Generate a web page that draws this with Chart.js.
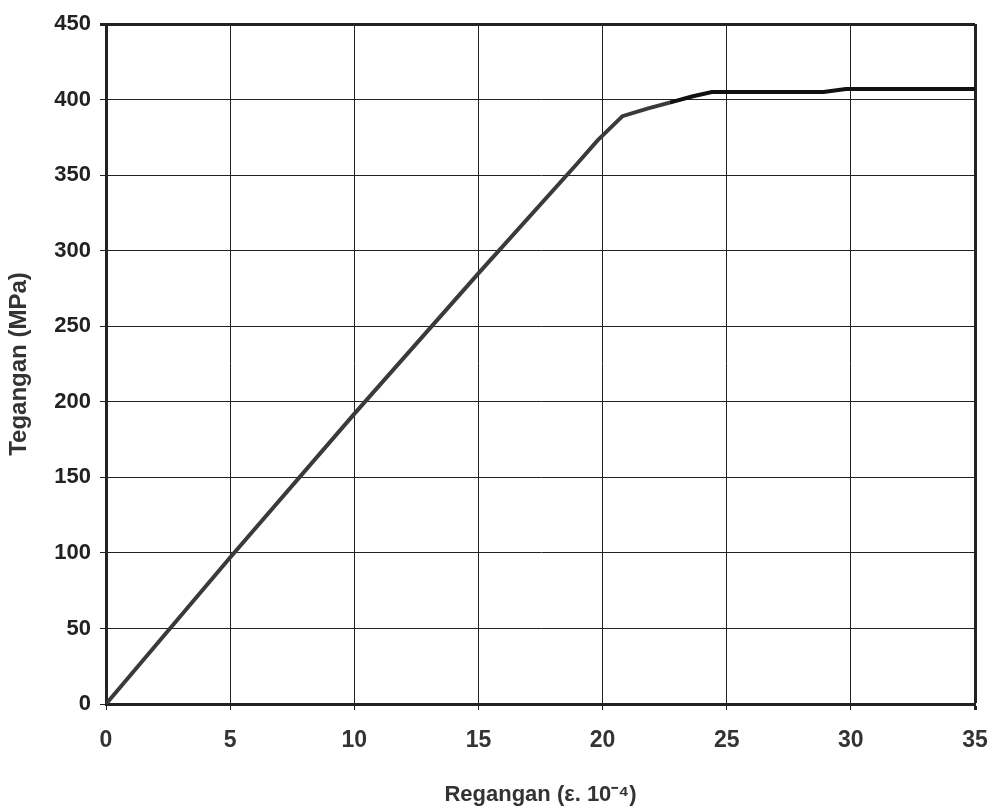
<!DOCTYPE html>
<html>
<head>
<meta charset="utf-8">
<script src="https://cdn.jsdelivr.net/npm/chart.js@4"></script>
<style>
  html, body { margin: 0; padding: 0; background: #fff; }
  #wrap { width: 996px; height: 812px; }
</style>
</head>
<body>
<div id="wrap"><canvas id="c" width="996" height="812"></canvas></div>
<script>
// strain (x 10^-4) and stress (MPa)
const strain = [0, 5, 10, 15, 19, 19.8, 20.8, 21.8, 22.7, 23.6, 24.4, 28.9, 29.8, 35];
const stress = [0, 97, 192, 285, 358, 373, 389, 394, 398, 402, 405, 405, 407, 407];
const xTicks = [0, 5, 10, 15, 20, 25, 30, 35];
const yTicks = [0, 50, 100, 150, 200, 250, 300, 350, 400, 450];

const fam = 'Liberation Sans, Arial, sans-serif';

new Chart(document.getElementById('c').getContext('2d'), {
    type: 'scatter',
    data: {
        datasets: [{
            data: strain.map((x, i) => ({ x: x, y: stress[i] })),
            showLine: true,
            borderColor: '#3a3a3a',
            borderWidth: 4,
            pointRadius: 0,
            tension: 0,
            segment: {
                // plateau part looks darker in the original
                borderColor: ctx => ctx.p0.parsed.x >= 22 ? '#111' : '#3a3a3a',
            },
        }],
    },
    options: {
        responsive: false,
        animation: false,
        layout: { padding: { left: 0, right: 21, top: 24, bottom: 0 } },
        plugins: { legend: { display: false }, tooltip: { enabled: false } },
        scales: {
            x: {
                type: 'linear',
                min: 0,
                max: 35,
                afterBuildTicks: s => { s.ticks = xTicks.map(v => ({ value: v })); },
                afterFit: s => {
                    s.height = 108;
                    s.paddingLeft = 0;
                    s.paddingRight = 0;
                },
                ticks: { color: '#333', font: { family: fam, size: 23, weight: 'bold' }, padding: 17 },
                grid: {
                    color: '#222',
                    lineWidth: ctx => ctx.tick && ctx.tick.value === 35 ? 3 : 1,
                    tickLength: 6,
                },
                border: { color: '#222', width: 3 },
                title: {
                    display: true,
                    text: 'Regangan (\u03b5. 10\u207b\u2074)',
                    color: '#333',
                    font: { family: fam, size: 22, weight: 'bold' },
                    padding: { top: 16 },
                },
            },
            y: {
                min: 0,
                max: 450,
                afterBuildTicks: s => { s.ticks = yTicks.map(v => ({ value: v })); },
                afterFit: s => { s.width = 106; },
                ticks: { color: '#222', font: { family: fam, size: 22, weight: 'bold' }, padding: 9 },
                grid: {
                    color: '#222',
                    lineWidth: ctx => ctx.tick && ctx.tick.value === 450 ? 3 : 1,
                    tickLength: 6,
                },
                border: { color: '#222', width: 3 },
                title: {
                    display: true,
                    text: 'Tegangan (MPa)',
                    color: '#333',
                    font: { family: fam, size: 24, weight: 'bold' },
                    padding: { top: 5, bottom: 2 },
                },
            },
        },
    },
});
</script>
</body>
</html>
